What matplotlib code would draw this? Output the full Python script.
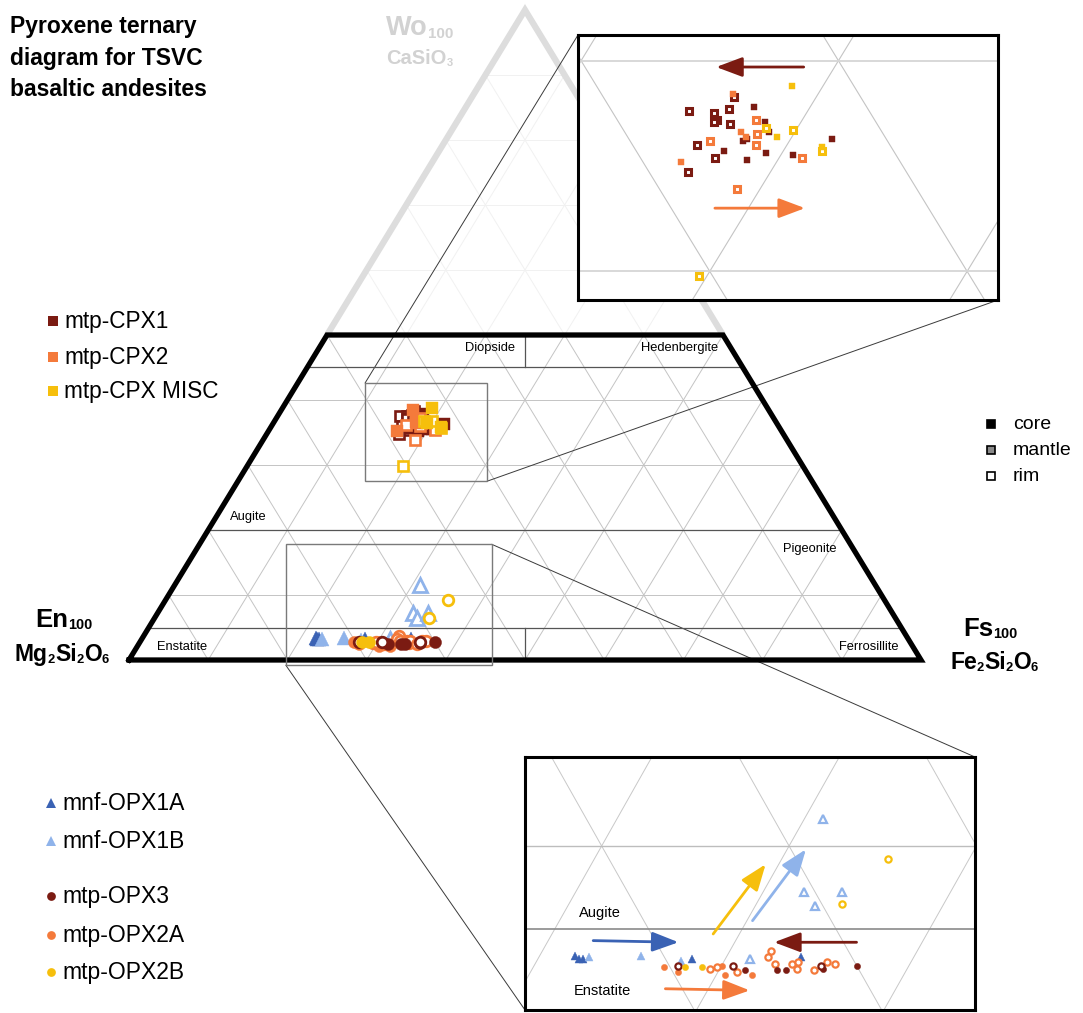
import matplotlib
matplotlib.use("Agg")
import matplotlib.pyplot as plt
from matplotlib.patches import Polygon, Rectangle, ConnectionPatch
import numpy as np

plt.rcParams['font.family'] = ['Liberation Sans', 'DejaVu Sans']

W, H = 1083, 1013

DRED = '#7b1b12'
ORNG = '#f47a3b'
YELL = '#f6bf0c'
DBLU = '#3a62b4'
LBLU = '#8fb3ea'

# clinopyroxene, mol% Wo and Fs (En = 100 - Wo - Fs)
cpx1_core_wo = [37.8, 37.1, 36.6, 36.2, 36.3, 35.7, 35.6, 35.3, 35.5, 36.3]
cpx1_core_fs = [17.8, 18.6, 19.0, 18.2, 18.3, 17.7, 19.4, 18.8, 20.5, 21.6]
cpx1_rim_wo = [38.3, 37.6, 37.5, 37.7, 37.2, 37.1, 37.0, 36.0, 35.4, 34.7]
cpx1_rim_fs = [16.8, 15.4, 16.4, 16.9, 16.7, 16.6, 17.3, 16.5, 17.5, 16.8]
cpx2_core_wo = [38.4, 36.6, 36.4, 35.2]
cpx2_core_fs = [16.7, 17.9, 18.2, 16.3]
cpx2_rim_wo = [37.2, 36.5, 36.2, 36.0, 35.4, 33.9]
cpx2_rim_fs = [18.2, 18.6, 16.9, 18.8, 20.9, 19.1]
misc_core_wo = [38.8, 36.4, 35.9]
misc_core_fs = [18.8, 19.4, 21.4]
misc_rim_wo = [36.8, 36.7, 35.7, 29.8]
misc_rim_fs = [18.8, 19.9, 21.5, 19.7]

# orthopyroxene
opx1a_wo = [3.4, 3.2, 3.2, 3.2, 3.3]
opx1a_fs = [21.9, 22.2, 22.4, 28.2, 34.0]
opx1b_core_wo = [3.3, 3.4, 3.1]
opx1b_core_fs = [22.7, 25.4, 27.7]
opx1b_rim_wo = [3.2, 11.6, 7.2, 6.4, 7.2]
opx1b_rim_fs = [31.3, 31.0, 32.2, 33.2, 34.2]
opx3_core_wo = [2.5, 2.5, 2.5, 2.6, 2.8]
opx3_core_fs = [31.4, 33.1, 33.6, 35.5, 37.2]
opx3_rim_wo = [2.8, 2.8, 2.8]
opx3_rim_fs = [27.7, 30.6, 35.3]
opx2a_core_wo = [2.7, 2.4, 2.2, 2.2, 2.8]
opx2a_core_fs = [27.0, 27.9, 30.5, 31.9, 30.0]
opx2a_rim_wo = [2.6, 2.7, 2.4, 3.7, 3.3, 2.9, 2.9, 2.6, 3.0, 2.5, 3.0, 2.9]
opx2a_rim_fs = [29.5, 29.8, 31.0, 32.2, 32.2, 32.8, 33.7, 34.1, 34.0, 35.1, 35.5, 36.0]
opx2b_core_wo = [2.7, 2.7]
opx2b_core_fs = [28.1, 29.0]
opx2b_rim_wo = [9.2, 6.5]
opx2b_rim_fs = [35.7, 34.6]

# trend arrows (Wo, Fs) start -> end
cpx_arrows = [((39.7, 18.8), (39.7, 15.4), DRED), ((33.0, 18.7), (33.0, 22.2), ORNG)]
opx_arrows = [((4.3, 22.4), (4.2, 27.0), DBLU), ((4.7, 28.6), (8.9, 29.3), YELL),
              ((5.5, 30.3), (9.8, 31.0), LBLU), ((4.2, 36.5), (4.2, 32.1), DRED),
              ((1.4, 27.7), (1.3, 32.25), ORNG)]


def tern(wo, fs):
    wo = np.asarray(wo, float)
    fs = np.asarray(fs, float)
    return fs + wo / 2.0, wo


cpx_sets = [(cpx1_rim_wo, cpx1_rim_fs, 's', DRED, False),
            (cpx1_core_wo, cpx1_core_fs, 's', DRED, True),
            (cpx2_rim_wo, cpx2_rim_fs, 's', ORNG, False),
            (cpx2_core_wo, cpx2_core_fs, 's', ORNG, True),
            (misc_rim_wo, misc_rim_fs, 's', YELL, False),
            (misc_core_wo, misc_core_fs, 's', YELL, True)]
opx_sets = [(opx1a_wo, opx1a_fs, '^', DBLU, True),
            (opx1b_core_wo, opx1b_core_fs, '^', LBLU, True),
            (opx1b_rim_wo, opx1b_rim_fs, '^', LBLU, False),
            (opx2a_core_wo, opx2a_core_fs, 'o', ORNG, True),
            (opx2a_rim_wo, opx2a_rim_fs, 'o', ORNG, False),
            (opx3_core_wo, opx3_core_fs, 'o', DRED, True),
            (opx3_rim_wo, opx3_rim_fs, 'o', DRED, False),
            (opx2b_core_wo, opx2b_core_fs, 'o', YELL, True),
            (opx2b_rim_wo, opx2b_rim_fs, 'o', YELL, False)]


def draw_points(a, sets, sizes):
    for wo, fs, mk, col, filled in sets:
        x, y = tern(wo, fs)
        ms_f, ms_o, mew = sizes[mk]
        if filled:
            a.plot(x, y, ls='none', marker=mk, ms=ms_f, mfc=col, mec=col, mew=0.3, zorder=5)
        else:
            a.plot(x, y, ls='none', marker=mk, ms=ms_o, mfc='white', mec=col, mew=mew, zorder=5)


def draw_grid(a, clip=None, color='#c4c4c4', lw=0.7, hcolor=None, hlw=None, z=1):
    segs = []
    for v in range(10, 100, 10):
        segs.append(([v, v + (100 - v) / 2.0], [0, 100 - v]))      # constant Fs
        segs.append(([100 - v, (100 - v) / 2.0], [0, 100 - v]))    # constant En
    for xs, ys in segs:
        ln, = a.plot(xs, ys, color=color, lw=lw, zorder=z)
        if clip is not None:
            ln.set_clip_path(clip)
    for w in range(10, 100, 10):
        ln, = a.plot([w / 2.0, 100 - w / 2.0], [w, w], color=hcolor or color,
                     lw=hlw or lw, zorder=z)
        if clip is not None:
            ln.set_clip_path(clip)


def draw_bounds(a, color='#555555', lw=0.9):
    for w in (45, 20, 5):
        a.plot([w / 2.0, 100 - w / 2.0], [w, w], color=color, lw=lw, zorder=2)
    a.plot([50, 50], [0, 5], color=color, lw=lw, zorder=2)
    a.plot([50, 50], [45, 50], color=color, lw=lw, zorder=2)


def draw_arrows(a, arrows):
    for (w0, f0), (w1, f1), col in arrows:
        x0, y0 = tern(w0, f0)
        x1, y1 = tern(w1, f1)
        a.annotate('', xy=(x1, y1), xytext=(x0, y0), zorder=6,
                   arrowprops=dict(arrowstyle='-|>,head_length=0.8,head_width=0.3',
                                   mutation_scale=20, color=col, lw=2.0,
                                   shrinkA=0, shrinkB=0))


fig = plt.figure(figsize=(W / 100, H / 100), dpi=100)

# layout layer in pixel coordinates
lay = fig.add_axes([0, 0, 1, 1])
lay.set_xlim(0, W)
lay.set_ylim(H, 0)
lay.axis('off')

# main ternary axes (x = Fs + Wo/2, y = Wo)
SX, SY, X0, Y0 = 7.92, 6.5, 129, 660
ax = fig.add_axes([0, 0, 1, 1])
ax.patch.set_visible(False)
ax.set_xlim(-X0 / SX, (W - X0) / SX)
ax.set_ylim((Y0 - H) / SY, Y0 / SY)
ax.axis('off')

upper = Polygon([(25, 50), (50, 100), (75, 50)], closed=True, fill=False, lw=0,
                transform=ax.transData)
trap = Polygon([(0, 0), (25, 50), (75, 50), (100, 0)], closed=True, fill=False, lw=0,
               transform=ax.transData)
draw_grid(ax, clip=upper, color='#f1f1f1', lw=0.7)
draw_grid(ax, clip=trap, color='#c4c4c4', lw=0.7)
ax.plot([25, 50, 75], [50, 100, 50], color='#dddddd', lw=4.5, solid_joinstyle='miter',
        solid_capstyle='butt', zorder=1)
draw_bounds(ax)
ax.plot([0, 25, 75, 100, 0], [0, 50, 50, 0, 0], color='black', lw=3.8,
        solid_joinstyle='miter', zorder=4)

for s, x, y, ha in [('Diopside', 48.7, 48.0, 'right'), ('Hedenbergite', 74.4, 48.0, 'right'),
                    ('Augite', 12.75, 22.0, 'left'), ('Pigeonite', 89.3, 17.1, 'right'),
                    ('Enstatite', 3.5, 2.0, 'left'), ('Ferrosillite', 97.1, 2.0, 'right')]:
    ax.text(x, y, s, fontsize=9.3, ha=ha, va='center', zorder=3)

draw_points(ax, opx_sets, {'^': (10, 9.5, 2.0), 'o': (8.7, 7.6, 2.0)})
draw_points(ax, cpx_sets, {'s': (8.0, 6.8, 1.9)})

# zoom frames in the main diagram
box_top = (29.8, 27.5, 15.4, 15.1)
box_bot = (19.8, -0.8, 26.0, 18.6)
for bx, by, bw, bh in (box_top, box_bot):
    ax.add_patch(Rectangle((bx, by), bw, bh, fill=False, ec='#7a7a7a', lw=1.0, zorder=4))

# CPX inset
top = fig.add_axes([578 / W, 1 - 300 / H, 420 / W, 265 / H])
top.set_xlim(29.88, 46.2)
top.set_ylim(28.64, 41.22)
top.set_xticks([])
top.set_yticks([])
for sp in top.spines.values():
    sp.set_linewidth(2.2)
draw_grid(top, color='#c4c4c4', lw=0.8, hcolor='#d6d6d6', hlw=1.3)
draw_points(top, cpx_sets, {'s': (4.6, 4.3, 2.2)})
draw_arrows(top, cpx_arrows)

# OPX inset
bot = fig.add_axes([525 / W, 3 / H, 450 / W, 253 / H])
bot.set_xlim(20.91, 44.92)
bot.set_ylim(0.12, 15.36)
bot.set_xticks([])
bot.set_yticks([])
for sp in bot.spines.values():
    sp.set_linewidth(2.2)
draw_grid(bot, color='#c8c8c8', lw=0.7, hcolor='#bdbdbd', hlw=1.0)
bot.plot([2.5, 97.5], [5, 5], color='#8a8a8a', lw=1.2, zorder=2)
bot.text(23.8, 5.96, 'Augite', fontsize=10.5, ha='left', va='center')
bot.text(23.53, 1.27, 'Enstatite', fontsize=10.5, ha='left', va='center')
draw_points(bot, opx_sets, {'^': (6.0, 6.0, 1.6), 'o': (4.5, 4.5, 1.6)})
draw_arrows(bot, opx_arrows)

# connector lines
for xyA, xyB, axB in [((box_top[0], box_top[1] + box_top[3]), (0, 1), top),
                      ((box_top[0] + box_top[2], box_top[1]), (1, 0), top),
                      ((box_bot[0], box_bot[1]), (0, 0), bot),
                      ((box_bot[0] + box_bot[2], box_bot[1] + box_bot[3]), (1, 1), bot)]:
    con = ConnectionPatch(xyA=xyA, coordsA=ax.transData, xyB=xyB, coordsB=axB.transAxes,
                          color='#3a3a3a', lw=0.7)
    ax.add_artist(con)


def chem(x, y, parts, size, color='black', weight='bold'):
    first = lay.text(x, y, parts[0][0], fontsize=size, color=color, weight=weight,
                     ha='left', va='baseline')
    prev = first
    for s, is_sub in parts[1:]:
        prev = lay.annotate(s, xy=(1, 0), xycoords=(prev, first),
                            fontsize=size * 0.56 if is_sub else size, color=color,
                            weight=weight, ha='left', va='bottom')
    return first


# title
for i, line in enumerate(['Pyroxene ternary', 'diagram for TSVC', 'basaltic andesites']):
    lay.text(10, 33 + 31.5 * i, line, fontsize=16.5, weight='bold', ha='left', va='baseline')

GREY = '#d2d2d2'
chem(386, 35, [('Wo', 0), ('100', 1)], 19.5, GREY)
chem(386, 64, [('CaSiO', 0), ('3', 1)], 14.5, GREY)
chem(35, 627, [('En', 0), ('100', 1)], 18.5)
chem(15, 661, [('Mg', 0), ('2', 1), ('Si', 0), ('2', 1), ('O', 0), ('6', 1)], 16.5)
chem(963, 636, [('Fs', 0), ('100', 1)], 18.5)
chem(950, 669, [('Fe', 0), ('2', 1), ('Si', 0), ('2', 1), ('O', 0), ('6', 1)], 16.5)

# legends
for y, lab, col in [(321, 'mtp-CPX1', DRED), (357, 'mtp-CPX2', ORNG), (391, 'mtp-CPX MISC', YELL)]:
    lay.plot(53, y, marker='s', ms=7.2, color=col, mew=0)
    lay.text(64, y, lab, fontsize=16.3, ha='left', va='center')

for y, lab, col, mk in [(803, 'mnf-OPX1A', DBLU, '^'), (841, 'mnf-OPX1B', LBLU, '^'),
                        (896, 'mtp-OPX3', DRED, 'o'), (935, 'mtp-OPX2A', ORNG, 'o'),
                        (972, 'mtp-OPX2B', YELL, 'o')]:
    lay.plot(51, y, marker=mk, ms=7 if mk == '^' else 6.3, color=col, mew=0)
    lay.text(62, y, lab, fontsize=16.5, ha='left', va='center')

for y, lab, fc in [(424, 'core', 'black'), (450, 'mantle', '#8a8a8a'), (476, 'rim', 'white')]:
    lay.plot(991, y, marker='s', ms=5.5, mfc=fc, mec='black', mew=1.2)
    lay.text(1013, y, lab, fontsize=14, ha='left', va='center')

fig.savefig('out.png', dpi=100)
